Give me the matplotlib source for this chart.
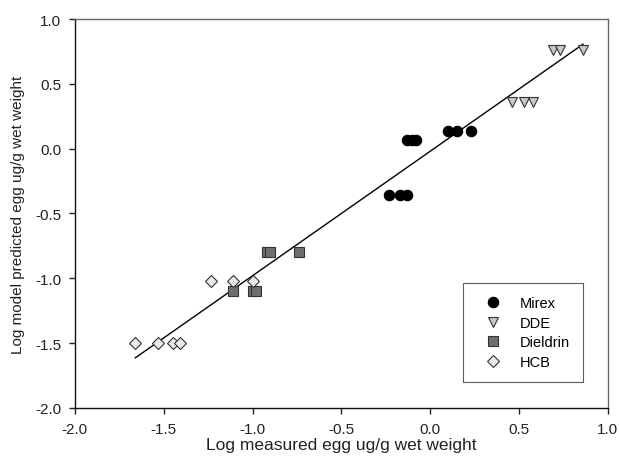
import matplotlib
matplotlib.use("Agg")
import matplotlib.pyplot as plt
import numpy as np

plt.rcParams['font.family'] = ['Liberation Sans', 'DejaVu Sans']

mirex_x = [-0.23, -0.17, -0.13, -0.13, -0.10, -0.08, 0.10, 0.15, 0.23]
mirex_y = [-0.36, -0.36, -0.36, 0.07, 0.07, 0.07, 0.14, 0.14, 0.14]
dde_x = [0.46, 0.53, 0.58, 0.69, 0.73, 0.86]
dde_y = [0.36, 0.36, 0.36, 0.76, 0.76, 0.76]
diel_x = [-1.11, -1.00, -0.98, -0.92, -0.90, -0.74]
diel_y = [-1.10, -1.10, -1.10, -0.80, -0.80, -0.80]
hcb_x = [-1.66, -1.53, -1.45, -1.41, -1.235, -1.11, -1.00]
hcb_y = [-1.50, -1.50, -1.50, -1.50, -1.02, -1.02, -1.02]

fit_slope = 0.96
fit_intercept = -0.02
fit_range = [-1.66, 0.86]

fig = plt.figure(figsize=(6.19, 4.60), dpi=100)
ax = fig.add_axes([0.121, 0.111, 0.861, 0.8455])

xl = np.array(fit_range)
ax.plot(xl, fit_slope * xl + fit_intercept, color='black', lw=1.0, zorder=1)

ms = 7.5
ax.plot(mirex_x, mirex_y, 'o', ms=ms, mfc='black', mec='black', mew=0.8, label='Mirex', zorder=3)
ax.plot(dde_x, dde_y, 'v', ms=ms, mfc='#c8c8c8', mec='#333333', mew=0.8, label='DDE', zorder=3)
ax.plot(diel_x, diel_y, 's', ms=ms - 0.5, mfc='#6e6e6e', mec='#333333', mew=0.8, label='Dieldrin', zorder=3)
ax.plot(hcb_x, hcb_y, 'D', ms=ms - 1.5, mfc='#e8e8e8', mec='#333333', mew=0.8, label='HCB', zorder=3)

ax.set_xlim(-2.0, 1.0)
ax.set_ylim(-2.0, 1.0)
ticks = np.arange(-2.0, 1.01, 0.5)
ax.set_xticks(ticks)
ax.set_yticks(ticks)
ax.set_xticklabels([f"{v:.1f}" for v in ticks])
ax.set_yticklabels([f"{v:.1f}" for v in ticks])
ax.tick_params(direction='out', length=4, width=1, labelsize=11, colors='#222222', pad=6)
for s in ['top', 'right']:
    ax.spines[s].set_color('#666666')
for s in ['left', 'bottom']:
    ax.spines[s].set_color('#111111')
for s in ax.spines.values():
    s.set_linewidth(1.0)

ax.set_xlabel('Log measured egg ug/g wet weight', fontsize=12.5, labelpad=1, color='#222222')
ax.set_ylabel('Log model predicted egg ug/g wet weight', fontsize=11, labelpad=7, color='#222222')

leg = ax.legend(loc='lower right', bbox_to_anchor=(0.953, 0.067), frameon=True, fancybox=False,
                edgecolor='#333333', fontsize=10.5, handletextpad=0.75, borderpad=0.9,
                labelspacing=0.38, handlelength=2.2, borderaxespad=0)
leg.get_frame().set_linewidth(0.8)

fig.savefig('out.png', dpi=100)
